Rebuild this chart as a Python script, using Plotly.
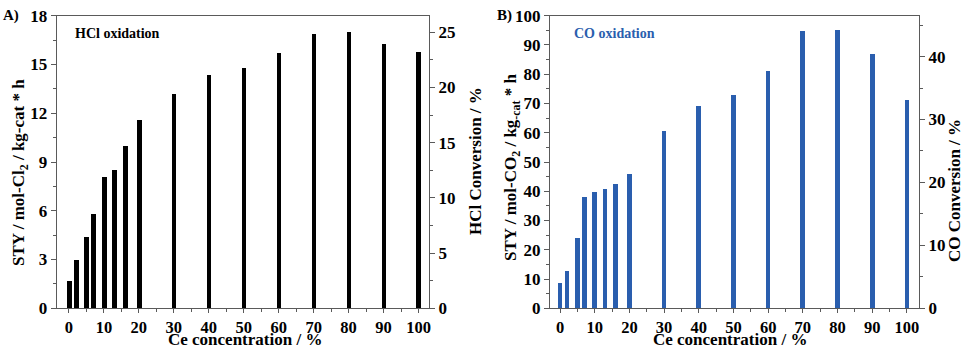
import plotly.graph_objects as go

# Ce content of the catalysts (%)
ce_content = [0, 2, 5, 7, 10, 13, 16, 20, 30, 40, 50, 60, 70, 80, 90, 100]

# Space-time yield, HCl oxidation (mol-Cl2 / kg-cat * h)
sty_hcl = [1.7, 3.0, 4.4, 5.8, 8.1, 8.5, 10.0, 11.6, 13.2, 14.4, 14.8, 15.7, 16.9, 17.0, 16.3, 15.8]

# Space-time yield, CO oxidation (mol-CO2 / kg-cat * h)
sty_co = [8.9, 12.9, 24.2, 38.0, 39.8, 40.8, 42.6, 46.1, 60.8, 69.2, 73.0, 81.3, 94.8, 95.3, 87.1, 71.2]

x_ticks = [0, 10, 20, 30, 40, 50, 60, 70, 80, 90, 100]

W, H = 965, 350
BLACK = "#000000"
BLUE = "#2a5eae"
AXIS = "#5a5a5a"
FONT = "Liberation Serif"


def px(x):
    return x / W


def py(y):
    return 1 - y / H


fig = go.Figure()

fig.add_trace(go.Bar(x=ce_content, y=sty_hcl, width=1.35, marker=dict(color=BLACK, line=dict(width=0)),
                     xaxis="x", yaxis="y", showlegend=False))
fig.add_trace(go.Scatter(x=[], y=[], xaxis="x", yaxis="y2", showlegend=False))
fig.add_trace(go.Bar(x=ce_content, y=sty_co, width=1.35, marker=dict(color=BLUE, line=dict(width=0)),
                     xaxis="x2", yaxis="y3", showlegend=False))
fig.add_trace(go.Scatter(x=[], y=[], xaxis="x2", yaxis="y4", showlegend=False))

ytickfont = dict(family=FONT, size=17, color=BLACK, weight="bold")
xtickfont = dict(family=FONT, size=16.5, color=BLACK, weight="bold")
ydom = [py(308.3), py(15.7)]


def xax(domain, rng, anchor):
    return dict(domain=domain, range=rng, anchor=anchor, tickvals=x_ticks, ticks="outside",
                ticklen=4, tickwidth=1, tickcolor=AXIS, showline=True, linecolor=AXIS, linewidth=1,
                mirror=True, showgrid=False, zeroline=False, tickfont=xtickfont,
                minor=dict(dtick=5, tick0=0, ticks="outside", ticklen=3, tickcolor=AXIS, showgrid=False))


def yax(rng, dtick, minor, anchor, side="left", overlaying=None):
    d = dict(domain=ydom, range=rng, anchor=anchor, side=side, dtick=dtick, tick0=0,
             ticks="outside", ticklen=5, tickwidth=1, tickcolor=AXIS, showline=True,
             linecolor=AXIS, linewidth=1, showgrid=False, zeroline=False, tickfont=ytickfont,
             minor=dict(dtick=minor, tick0=0, ticks="outside", ticklen=3, tickcolor=AXIS, showgrid=False))
    if overlaying:
        d["overlaying"] = overlaying
    return d


fig.update_layout(
    width=W, height=H,
    margin=dict(l=0, r=0, t=0, b=0, autoexpand=False),
    paper_bgcolor="white", plot_bgcolor="white",
    bargap=0,
    xaxis=xax([px(56.7), px(429)], [-3.5, 103], "y"),
    yaxis=yax([0, 18], 3, 1.5, "x"),
    yaxis2=yax([0, 26.5], 5, 2.5, "x", side="right", overlaying="y"),
    xaxis2=xax([px(550), px(919)], [-2.9, 103.5], "y3"),
    yaxis3=yax([0, 100], 10, 5, "x2"),
    yaxis4=yax([0, 46.5], 10, 5, "x2", side="right", overlaying="y3"),
)


def note(text, x, y, size=17, color=BLACK, angle=0, xanchor="center"):
    fig.add_annotation(text=text, x=px(x), y=py(y), xref="paper", yref="paper",
                       xanchor=xanchor, yanchor="middle", showarrow=False, textangle=angle,
                       font=dict(family=FONT, size=size, color=color, weight="bold"))


# panel labels and reaction names
note("A)", 1, 16, size=15, xanchor="left")
note("B)", 495, 16, size=15, xanchor="left")
note("HCl oxidation", 73, 33, size=14, xanchor="left")
note("CO oxidation", 572, 33, size=14, color=BLUE, xanchor="left")

# axis titles
note("Ce concentration / %", 245, 339)
note("Ce concentration / %", 730, 339)
note("STY / mol-Cl<sub>2</sub> / kg-cat * h", 20, 173, angle=-90)
note("HCl Conversion / %", 475, 161, angle=-90)
note("STY / mol-CO<sub>2</sub> / kg<sub>-cat</sub> * h", 512, 167, angle=-90)
note("CO Conversion / %", 954, 191, angle=-90)

fig.write_html("out.html")
